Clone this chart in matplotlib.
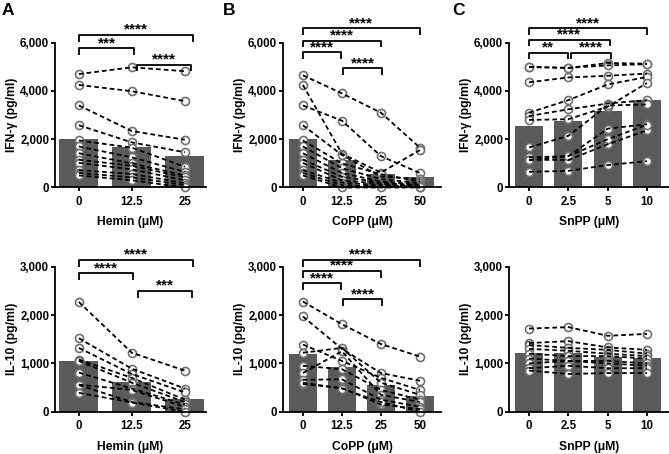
import matplotlib
matplotlib.use("Agg")
import matplotlib.pyplot as plt
import numpy as np

plt.rcParams['font.family'] = ['Liberation Sans', 'DejaVu Sans']
plt.rcParams['font.weight'] = 'bold'
plt.rcParams['axes.labelweight'] = 'bold'

# ---------------- data ----------------
hemin_doses = ["0", "12.5", "25"]
copp_doses = ["0", "12.5", "25", "50"]
snpp_doses = ["0", "2.5", "5", "10"]

# IFN-gamma (pg/ml), one row per donor
hemin_ifn = [
    [4700, 4980, 4820],
    [4250, 3990, 3580],
    [3400, 2340, 1980],
    [2580, 1870, 1460],
    [1950, 1650, 860],
    [1700, 1250, 650],
    [1420, 1000, 500],
    [1150, 900, 420],
    [1020, 750, 300],
    [720, 560, 180],
    [600, 420, 100],
    [500, 300, 0],
]
hemin_ifn_mean = [2008, 1690, 1304]

copp_ifn = [
    [4650, 3900, 3100, 1650],
    [4250, 1400, 620, 1550],
    [3400, 2770, 1300, 600],
    [2580, 1350, 450, 350],
    [1950, 1000, 550, 250],
    [1700, 800, 350, 180],
    [1420, 600, 250, 120],
    [1150, 450, 200, 80],
    [1020, 300, 150, 50],
    [720, 200, 100, 30],
    [600, 100, 50, 10],
    [500, 0, 0, 0],
]
copp_ifn_mean = [1995, 1138, 546, 422]

snpp_ifn = [
    [5000, 4950, 5160, 5130],
    [4990, 4960, 5060, 5110],
    [4360, 4560, 4630, 4720],
    [3100, 3620, 4270, 4580],
    [2960, 3240, 3480, 3620],
    [2800, 2830, 3350, 4330],
    [1660, 2140, 3400, 3440],
    [1250, 1300, 2440, 2620],
    [1150, 1140, 1790, 2370],
    [1130, 1300, 2000, 2600],
    [650, 690, 930, 1090],
]
snpp_ifn_mean = [2546, 2767, 3180, 3622]

# IL-10 (pg/ml)
hemin_il10 = [
    [2270, 1220, 850],
    [1520, 890, 480],
    [1320, 780, 400],
    [1080, 700, 250],
    [1050, 600, 200],
    [810, 480, 150],
    [560, 450, 100],
    [550, 200, 50],
    [390, 190, 0],
]
hemin_il10_mean = [1056, 621, 263]

copp_il10 = [
    [2280, 1810, 1400, 1140],
    [1970, 1300, 800, 640],
    [1390, 1050, 700, 450],
    [1220, 1320, 600, 350],
    [950, 880, 450, 250],
    [800, 1250, 350, 200],
    [660, 670, 250, 100],
    [570, 490, 150, 50],
    [600, 480, 200, 0],
]
copp_il10_mean = [1187, 918, 552, 325]

snpp_il10 = [
    [1720, 1750, 1570, 1610],
    [1420, 1460, 1330, 1280],
    [1380, 1320, 1280, 1200],
    [1300, 1260, 1200, 1150],
    [1200, 1150, 1150, 1100],
    [1100, 1050, 1050, 1000],
    [1000, 1050, 1000, 950],
    [900, 950, 900, 900],
    [850, 780, 800, 800],
]
snpp_il10_mean = [1208, 1208, 1138, 1104]

# significance comparisons (group i, group j, label)
hemin_ifn_sig = [(0, 2, "****"), (0, 1, "***"), (1, 2, "****")]
copp_ifn_sig = [(0, 3, "****"), (0, 2, "****"), (0, 1, "****"), (1, 2, "****")]
snpp_ifn_sig = [(0, 3, "****"), (0, 2, "****"), (0, 1, "**"), (1, 2, "****")]
hemin_il10_sig = [(0, 2, "****"), (0, 1, "****"), (1, 2, "***")]
copp_il10_sig = [(0, 3, "****"), (0, 2, "****"), (0, 1, "****"), (1, 2, "****")]
snpp_il10_sig = []

# ---------------- style / layout ----------------
BAR = '#5a5a5a'
EDGE = '#707070'
W, H = 669, 454

fig = plt.figure(figsize=(W / 100, H / 100), dpi=100)


def rect(left_px, right_px, top_px, bottom_px):
    return [left_px / W, 1 - bottom_px / H, (right_px - left_px) / W, (bottom_px - top_px) / H]


def panel(r, doses, donors, means, ymax, ystep, ylabel, xlabel, sigs,
          levels, spans, xlim, width, xlab_y):
    ax = fig.add_axes(r)
    x = np.arange(len(doses))
    ax.bar(x, means, width=width, color=BAR, zorder=1)
    for d in donors:
        ax.plot(x, d, 'o', ms=5.8, mfc='white', mec=EDGE, mew=1.2, zorder=2, clip_on=False)
        ax.plot(x, d, ls=(0, (2.6, 1.7)), color='black', lw=1.3, zorder=3, clip_on=False)
    ax.set_xlim(*xlim)
    ax.set_ylim(0, ymax)
    ticks = np.arange(0, ymax + 1, ystep)
    ax.set_yticks(ticks)
    ax.set_yticklabels([f"{int(t):,}" for t in ticks])
    ax.set_xticks(x)
    ax.set_xticklabels(doses)
    for s in ['top', 'right']:
        ax.spines[s].set_visible(False)
    for s in ['left', 'bottom']:
        ax.spines[s].set_linewidth(1.3)
    ax.tick_params(axis='both', width=1.3, length=3.2, labelsize=8.3, pad=1.0)
    ax.tick_params(axis='x', pad=3)
    for lab in ax.get_xticklabels() + ax.get_yticklabels():
        lab.set_fontweight('bold')
    ax.set_ylabel(ylabel, fontsize=8.7, fontweight='bold')
    axw_px = r[2] * W
    ax.yaxis.set_label_coords(-37.0 / axw_px, 0.5)
    ax.set_xlabel(xlabel, fontsize=8.7, fontweight='bold')
    ax.xaxis.set_label_coords(0.5, xlab_y)
    tip = 0.045 * ymax
    for (i, j, lab), lev, (x1, x2) in zip(sigs, levels, spans):
        y = lev * ymax
        ax.plot([x1, x1, x2, x2], [y - tip, y, y, y - tip], color='black', lw=1.3,
                clip_on=False, zorder=5, solid_capstyle='butt')
        ax.annotate(lab, xy=((x1 + x2) / 2, y), xytext=(0, 0.8), textcoords='offset points',
                    ha='center', va='baseline', fontsize=11, fontweight='bold',
                    annotation_clip=False)
    return ax


TOP = (42.7, 187.5)
BOT = (266.7, 411.7)

panel(rect(55, 206, *TOP), hemin_doses, hemin_ifn, hemin_ifn_mean, 6000, 2000,
      "IFN-γ (pg/ml)", "Hemin (μM)", hemin_ifn_sig,
      [1.053, 0.96, 0.847], [(0, 2.15), (0, 1.05), (1.1, 2.12)],
      (-0.45, 2.4), 0.74, -0.195)
panel(rect(283, 441, *TOP), copp_doses, copp_ifn, copp_ifn_mean, 6000, 2000,
      "IFN-γ (pg/ml)", "CoPP (μM)", copp_ifn_sig,
      [1.10, 1.014, 0.934, 0.823], [(0, 3.0), (0, 2.0), (0, 0.98), (1.03, 2.04)],
      (-0.51, 3.54), 0.7, -0.195)
panel(rect(509, 669, *TOP), snpp_doses, snpp_ifn, snpp_ifn_mean, 6000, 2000,
      "IFN-γ (pg/ml)", "SnPP (μM)", snpp_ifn_sig,
      [1.10, 1.019, 0.931, 0.931], [(0, 3.0), (0, 2.05), (0, 0.98), (1.07, 2.08)],
      (-0.51, 3.56), 0.71, -0.195)

panel(rect(55, 206, *BOT), hemin_doses, hemin_il10, hemin_il10_mean, 3000, 1000,
      "IL-10 (pg/ml)", "Hemin (μM)", hemin_il10_sig,
      [1.046, 0.954, 0.832], [(0, 2.15), (0, 1.03), (1.11, 2.14)],
      (-0.45, 2.4), 0.74, -0.205)
panel(rect(283, 441, *BOT), copp_doses, copp_il10, copp_il10_mean, 3000, 1000,
      "IL-10 (pg/ml)", "CoPP (μM)", copp_il10_sig,
      [1.046, 0.97, 0.885, 0.775], [(0, 3.0), (0, 2.0), (0, 0.98), (1.03, 2.04)],
      (-0.51, 3.54), 0.7, -0.205)
panel(rect(509, 669, *BOT), snpp_doses, snpp_il10, snpp_il10_mean, 3000, 1000,
      "IL-10 (pg/ml)", "SnPP (μM)", snpp_il10_sig,
      [], [], (-0.51, 3.56), 0.71, -0.205)

for lab, px in [("A", 2), ("B", 223), ("C", 452)]:
    fig.text(px / W, 1 - 3 / H, lab, fontsize=12.5, fontweight='bold', ha='left', va='top')

fig.savefig("out.png", dpi=100)
